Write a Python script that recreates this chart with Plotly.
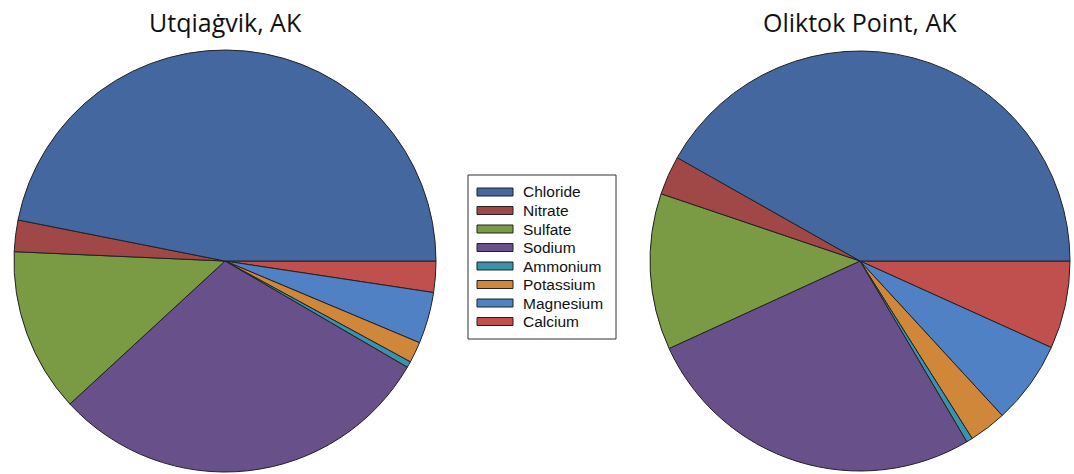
import plotly.graph_objects as go

# Ion composition (% of total) at two Alaskan North Slope sites
ions = ["Chloride", "Nitrate", "Sulfate", "Sodium", "Ammonium",
        "Potassium", "Magnesium", "Calcium"]
utqiagvik = [46.88, 2.41, 12.56, 29.74, 0.47, 1.60, 3.94, 2.39]
oliktok = [41.81, 3.00, 12.03, 26.65, 0.48, 2.87, 6.40, 6.76]
site_titles = ["Utqiaġvik, AK", "Oliktok Point, AK"]

colors = ["#4467a0", "#a04848", "#7a9a44", "#68508a",
          "#3a93ad", "#d0873a", "#4f81c4", "#c0504d"]

W, H = 1074, 474

fig = go.Figure()

# Slices run counter-clockwise from 3 o'clock starting with Chloride;
# drawing the reversed order clockwise from 3 o'clock gives that layout.
pie_style = dict(
    sort=False,
    direction="clockwise",
    rotation=90,
    textinfo="none",
    hoverinfo="label+percent",
    showlegend=False,
    marker=dict(colors=colors[::-1], line=dict(color="#222222", width=1)),
)

fig.add_trace(go.Pie(labels=ions[::-1], values=utqiagvik[::-1],
                     domain=dict(x=[14 / W, 436 / W], y=[2 / H, 1 - 50 / H]),
                     **pie_style))
fig.add_trace(go.Pie(labels=ions[::-1], values=oliktok[::-1],
                     domain=dict(x=[650 / W, 1070 / W], y=[2 / H, 1 - 50 / H]),
                     **pie_style))

# Site titles
for title, cx in zip(site_titles, [225, 860]):
    fig.add_annotation(text=title, x=cx / W, y=1 - 22 / H, xref="paper", yref="paper",
                       showarrow=False, xanchor="center", yanchor="middle",
                       font=dict(family="Open Sans", size=25, color="#111111"))

# Legend box with wide swatches
shapes = [dict(type="rect", xref="paper", yref="paper",
               x0=468 / W, x1=616 / W, y0=1 - 339 / H, y1=1 - 175 / H,
               line=dict(color="#333333", width=1), fillcolor="white")]
row0, step = 192, 18.5
for i, (name, col) in enumerate(zip(ions, colors)):
    yc = row0 + i * step
    shapes.append(dict(type="rect", xref="paper", yref="paper",
                       x0=477 / W, x1=513 / W,
                       y0=1 - (yc + 4) / H, y1=1 - (yc - 4) / H,
                       line=dict(color="#222222", width=1), fillcolor=col))
    fig.add_annotation(text=name, x=521 / W, y=1 - yc / H, xref="paper", yref="paper",
                       showarrow=False, xanchor="left", yanchor="middle",
                       font=dict(family="Liberation Sans", size=15.5, color="#111111"))

fig.update_layout(
    width=W, height=H,
    margin=dict(l=0, r=0, t=0, b=0),
    paper_bgcolor="white", plot_bgcolor="white",
    shapes=shapes,
)

fig.write_html("out.html")
